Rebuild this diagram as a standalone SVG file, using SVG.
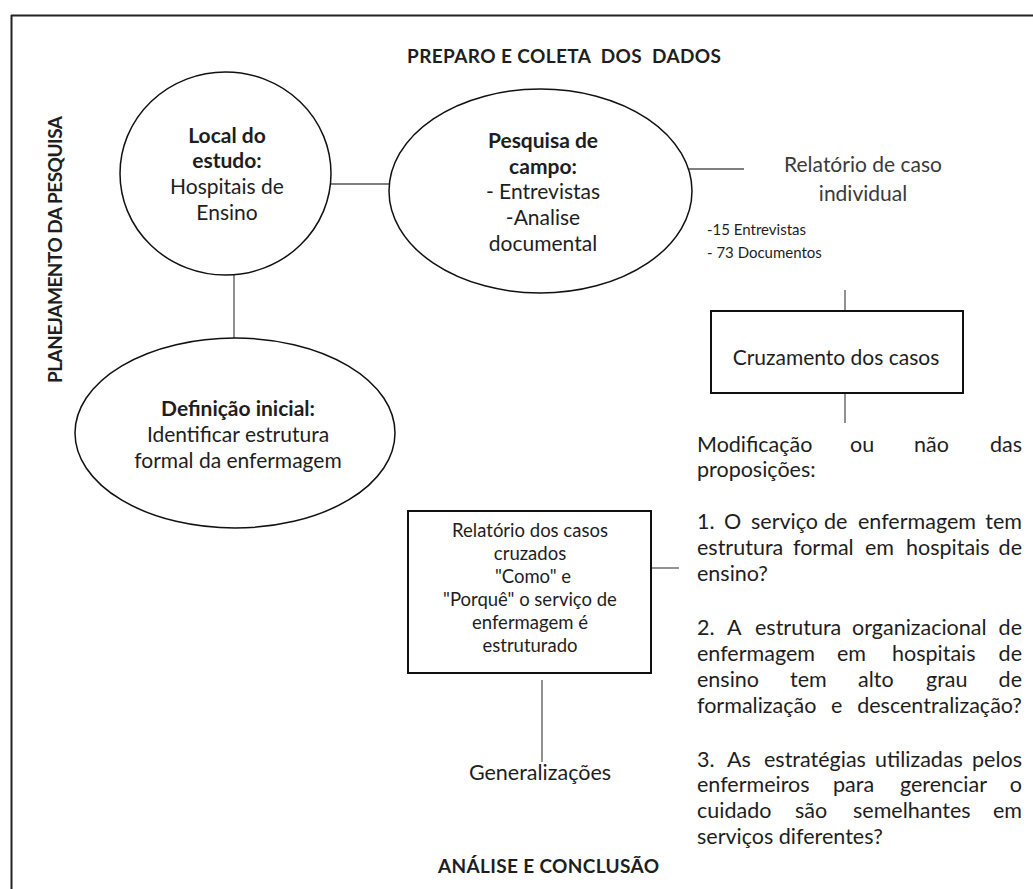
<svg xmlns="http://www.w3.org/2000/svg" width="1033" height="889" viewBox="0 0 1033 889">
<style>
text{font-family:Lato,"Open Sans","Liberation Sans",sans-serif;fill:#1e1e1e;font-size:21px;}
.c{text-anchor:middle;}
.b{font-weight:bold;}
.h{font-size:19px;font-weight:bold;}
.s{font-size:15px;}
.sm{font-size:18.5px;}
.p{font-size:21.5px;}
.g{fill:#3a3a3a;}
.e{text-anchor:end;}
.shape{fill:#fff;stroke:#111;stroke-width:1.5;}
.box{fill:#fff;stroke:#111;stroke-width:2;}
.ln{stroke:#555;stroke-width:1.3;fill:none;}
</style>
<rect width="1033" height="889" fill="#fff"/>
<!-- frame -->
<path d="M11 15.5H1033M11.5 15V889" stroke="#222" stroke-width="2" fill="none"/>

<!-- section headings -->
<text class="h" x="407" y="63" textLength="314" xml:space="preserve" style="white-space:pre">PREPARO E COLETA  DOS  DADOS</text>
<text class="h" x="438" y="873" textLength="221">ANÁLISE E CONCLUSÃO</text>
<text class="h" x="62" y="383" textLength="267" transform="rotate(-90 62 383)">PLANEJAMENTO DA PESQUISA</text>

<!-- connectors -->
<g id="connectors">
<line class="ln" x1="331" y1="184" x2="390" y2="184"/>
<line class="ln" x1="684" y1="169" x2="744" y2="169"/>
<line class="ln" x1="234" y1="274" x2="234" y2="338"/>
<line class="ln" x1="845" y1="290" x2="845" y2="311"/>
<line class="ln" x1="845" y1="393" x2="845" y2="423"/>
<line class="ln" x1="651" y1="568" x2="679" y2="568"/>
<line class="ln" x1="542" y1="680" x2="542" y2="762"/>
</g>

<g id="local-estudo">
<ellipse class="shape" cx="225.5" cy="173.5" rx="105.5" ry="101.5"/>
<text class="c b" x="227" y="143">Local do</text>
<text class="c b" x="227" y="168">estudo:</text>
<text class="c" x="227" y="194">Hospitais de</text>
<text class="c" x="227" y="220">Ensino</text>
</g>

<g id="pesquisa-campo">
<ellipse class="shape" cx="540.5" cy="191" rx="151.5" ry="102"/>
<text class="c b" x="543" y="148">Pesquisa de</text>
<text class="c b" x="543" y="174">campo:</text>
<text class="c" x="543" y="199">- Entrevistas</text>
<text class="c" x="543" y="225">-Analise</text>
<text class="c" x="543" y="251">documental</text>
</g>

<g id="relatorio-individual">
<text class="c g" x="863" y="172">Relatório de caso</text>
<text class="c g" x="863" y="201">individual</text>
<text class="s" x="707" y="235">-15 Entrevistas</text>
<text class="s" x="707" y="258">- 73 Documentos</text>
</g>

<g id="cruzamento">
<rect class="box" x="711" y="311" width="252" height="82"/>
<text class="c" x="836" y="365">Cruzamento dos casos</text>
</g>

<g id="definicao-inicial">
<ellipse class="shape" cx="235" cy="433" rx="160" ry="95"/>
<text class="c b" x="238" y="416">Definição inicial:</text>
<text class="c" x="238" y="442">Identificar estrutura</text>
<text class="c" x="238" y="468">formal da enfermagem</text>
</g>

<g id="relatorio-cruzados">
<rect class="box" x="408" y="511" width="243" height="162"/>
<text class="c sm" x="530" y="537">Relatório dos casos</text>
<text class="c sm" x="530" y="560">cruzados</text>
<text class="c sm" x="533" y="583"> "Como" e</text>
<text class="c sm" x="530" y="606">"Porquê" o serviço de</text>
<text class="c sm" x="530" y="629">enfermagem é</text>
<text class="c sm" x="530" y="652">estruturado</text>
</g>

<g id="generalizacoes">
<text class="c p" x="540" y="780">Generalizações</text>
</g>

<!-- justified paragraph: each word placed on the 697–1022 measure -->
<g id="proposicoes">
<text class="p" y="452"><tspan x="697">Modificação</tspan><tspan x="850">ou</tspan><tspan x="914">não</tspan><tspan class="e" x="1022">das</tspan></text>
<text class="p" x="697" y="477">proposições:</text>

<text class="p" y="529"><tspan x="697">1.</tspan><tspan x="724">O</tspan><tspan x="751">serviço</tspan><tspan x="824">de</tspan><tspan x="858">enfermagem</tspan><tspan class="e" x="1022">tem</tspan></text>
<text class="p" y="555"><tspan x="697">estrutura</tspan><tspan x="793">formal</tspan><tspan x="865">em</tspan><tspan x="906">hospitais</tspan><tspan class="e" x="1022">de</tspan></text>
<text class="p" x="697" y="581">ensino?</text>

<text class="p" y="635"><tspan x="697">2.</tspan><tspan x="727">A</tspan><tspan x="755">estrutura</tspan><tspan x="852">organizacional</tspan><tspan class="e" x="1022">de</tspan></text>
<text class="p" y="661"><tspan x="697">enfermagem</tspan><tspan x="837">em</tspan><tspan x="892">hospitais</tspan><tspan class="e" x="1022">de</tspan></text>
<text class="p" y="687"><tspan x="697">ensino</tspan><tspan x="790">tem</tspan><tspan x="858">alto</tspan><tspan x="926">grau</tspan><tspan class="e" x="1022">de</tspan></text>
<text class="p" y="713"><tspan x="697">formalização</tspan><tspan x="831">e</tspan><tspan class="e" x="1022">descentralização?</tspan></text>

<text class="p" y="767"><tspan x="697">3.</tspan><tspan x="727">As</tspan><tspan x="764">estratégias</tspan><tspan x="875">utilizadas</tspan><tspan class="e" x="1022">pelos</tspan></text>
<text class="p" y="792"><tspan x="697">enfermeiros</tspan><tspan x="833">para</tspan><tspan x="900">gerenciar</tspan><tspan class="e" x="1022">o</tspan></text>
<text class="p" y="818"><tspan x="697">cuidado</tspan><tspan x="795">são</tspan><tspan x="853">semelhantes</tspan><tspan class="e" x="1022">em</tspan></text>
<text class="p" x="697" y="844">serviços diferentes?</text>
</g>
</svg>
